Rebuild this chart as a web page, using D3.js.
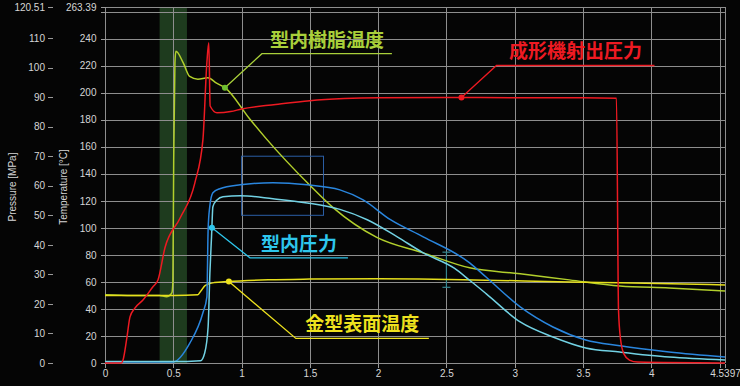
<!DOCTYPE html>
<html>
<head>
<meta charset="utf-8">
<script src="https://cdn.jsdelivr.net/npm/d3@7/dist/d3.min.js"></script>
<style>
body { margin: 0; background: #050505; }
svg { display: block; }
.tick text { fill: #d6d6d6; font-family: "Liberation Sans Narrow", "Liberation Sans", Arial, sans-serif; font-size: 10px; }
.tick line { stroke: #9a9a9a; }
.grid line { stroke: #8e8e8e; stroke-width: 1; shape-rendering: crispEdges; }
.title { fill: #d6d6d6; font-family: "Liberation Sans Narrow", "Liberation Sans", Arial, sans-serif; font-size: 10px; }
.series { fill: none; stroke-width: 1.5; stroke-linejoin: round; }
.note { font-family: "Noto Sans CJK JP", "Noto Sans", sans-serif; font-size: 19px; font-weight: bold; }
</style>
</head>
<body>
<div id="chart"></div>
<script>
// axis ranges
var tMax = 4.5397;      // s
var tempMax = 263.39;   // degC
var presMax = 120.51;   // MPa

var xTicks = [0, 0.5, 1, 1.5, 2, 2.5, 3, 3.5, 4, 4.5, 4.5397];
var tempTicks = [0, 20, 40, 60, 80, 100, 120, 140, 160, 180, 200, 220, 240, 260, 263.39];
var presTicks = [0, 10, 20, 30, 40, 50, 60, 70, 80, 90, 100, 110, 120.51];
var hiddenLabels = [4.5, 260];

// machine injection pressure (MPa)
var redT = [0, 0.12, 0.132, 0.161, 0.183, 0.219, 0.278, 0.351, 0.388, 0.439, 0.549, 0.658, 0.717, 0.746, 0.76, 0.77, 0.82, 0.92, 1.0, 1.25, 1.5, 1.75, 2.0, 2.5, 3.0, 3.5, 3.745, 3.76, 3.775, 3.8, 3.84, 3.9, 4.5397];
var redV = [0, 0, 1, 8.8, 15.6, 18.6, 21.3, 25.8, 28.1, 39, 49, 61, 75.6, 101.7, 108.4, 87, 84.7, 85.1, 86, 87.5, 88.8, 89.5, 89.8, 89.9, 89.8, 89.8, 89.6, 18, 8, 3, 1, 0.3, 0];

// resin temperature in mold (degC)
var resinT = [0, 0.2, 0.4, 0.45, 0.49, 0.497, 0.503, 0.512, 0.519, 0.573, 0.62, 0.68, 0.753, 0.817, 0.878, 1.06, 1.18, 1.5, 1.67, 1.99, 2.33, 2.67, 3.04, 3.4, 3.77, 4.13, 4.5397];
var resinV = [50.5, 50, 50, 49, 52, 60, 150, 222, 230.6, 222, 212, 210, 211, 207, 203.7, 180.5, 166, 131.5, 115, 93, 81.5, 70.4, 66, 61.5, 57, 55.5, 53.3];

// mold surface temperature (degC)
var moldT = [0, 0.5, 0.68, 0.7, 0.735, 0.8, 0.9, 1.2, 1.5, 2.0, 2.3, 2.7, 3.4, 3.77, 4.5397];
var moldV = [50, 50, 50.5, 53, 57.5, 59.5, 60.3, 61.6, 62.1, 62.4, 62.2, 61.5, 60, 59.3, 57.8];

// cavity pressure, upper sensor (MPa)
var blueT = [0, 0.497, 0.622, 0.717, 0.746, 0.755, 0.766, 0.79, 0.84, 0.99, 1.23, 1.48, 1.72, 1.89, 2.09, 2.33, 2.67, 2.79, 3.04, 3.28, 3.52, 3.77, 4.13, 4.5397];
var blueV = [0.3, 0.3, 6.8, 17, 22.4, 45, 52.5, 57.6, 59, 60.3, 61, 60.3, 58.6, 55.2, 48.5, 42.7, 33.9, 29.1, 19, 12.2, 7.8, 5.8, 3.7, 2.0];

// cavity pressure (MPa)
var cyanT = [0, 0.5, 0.7, 0.73, 0.755, 0.768, 0.78, 0.79, 0.82, 0.864, 0.99, 1.23, 1.48, 1.72, 1.92, 2.14, 2.33, 2.56, 2.67, 2.79, 3.04, 3.28, 3.52, 3.77, 4.13, 4.5397];
var cyanV = [0.5, 0.5, 0.8, 3.4, 12.2, 30.5, 42.7, 52.9, 55.2, 56.3, 56.6, 55.6, 54.2, 52, 48.5, 42.7, 37.3, 32, 28, 23.5, 13.9, 8.8, 5.1, 3.7, 2.0, 1.0];

var bandT = [0.4, 0.6];        // shaded window
var boxT = [1.0, 1.6];         // selection box, time
var boxP = [50, 70];           // selection box, MPa
var cursorT = 2.5;             // error bar
var cursorTemp = [56, 82];

var noteText = ["型内樹脂温度", "成形機射出圧力", "型内圧力", "金型表面温度"];
var noteAt = [0.878, 2.61, 0.783, 0.907];

var width = 740, height = 386;
var margin = {top: 7, right: 15, bottom: 23, left: 105};

var x = d3.scaleLinear().domain([0, tMax]).range([margin.left, width - margin.right]);
var yT = d3.scaleLinear().domain([0, tempMax]).range([height - margin.bottom, margin.top]);
var yP = d3.scaleLinear().domain([0, presMax]).range([height - margin.bottom, margin.top]);

var svg = d3.select("#chart").append("svg").attr("width", width).attr("height", height);
svg.append("rect").attr("width", width).attr("height", height).attr("fill", "#050505");

// shaded band
svg.append("rect")
    .attr("x", x(bandT[0])).attr("width", x(bandT[1]) - x(bandT[0]))
    .attr("y", yT(tempMax)).attr("height", yT(0) - yT(tempMax))
    .attr("fill", "#1e3b1e");

// grid
var grid = svg.append("g").attr("class", "grid");
grid.selectAll("hline").data(tempTicks).enter().append("line")
    .attr("x1", x(0)).attr("x2", x(tMax))
    .attr("y1", function(d) { return Math.round(yT(d)) + 0.5; })
    .attr("y2", function(d) { return Math.round(yT(d)) + 0.5; });
grid.selectAll("vline").data(xTicks).enter().append("line")
    .attr("x1", function(d) { return Math.round(x(d)) + 0.5; })
    .attr("x2", function(d) { return Math.round(x(d)) + 0.5; })
    .attr("y1", yT(tempMax)).attr("y2", yT(0));

function fmt(d) { return hiddenLabels.indexOf(d) >= 0 ? "" : String(d); }

// axes
var xAxis = d3.axisBottom(x).tickValues(xTicks).tickSize(4).tickPadding(2).tickFormat(fmt);
var tAxis = d3.axisLeft(yT).tickValues(tempTicks).tickSize(5).tickPadding(4).tickFormat(fmt);
var pAxis = d3.axisLeft(yP).tickValues(presTicks).tickSize(5).tickPadding(3).tickFormat(fmt);

svg.append("g").attr("transform", "translate(0," + (Math.round(yT(0)) + 0.5) + ")").call(xAxis)
    .call(function(g) { g.select(".domain").remove(); });
svg.append("g").attr("transform", "translate(" + (x(0) + 0.5) + ",0)").call(tAxis)
    .call(function(g) { g.select(".domain").remove(); });
svg.append("g").attr("transform", "translate(53,0)").call(pAxis)
    .call(function(g) { g.select(".domain").remove(); });
svg.selectAll(".tick line").attr("shape-rendering", "crispEdges");

svg.append("text").attr("class", "title").attr("text-anchor", "middle")
    .attr("transform", "translate(15.5,187) rotate(-90)").text("Pressure [MPa]");
svg.append("text").attr("class", "title").attr("text-anchor", "middle")
    .attr("transform", "translate(66.5,187) rotate(-90)").text("Temperature [°C]");

// selection box and cursor
svg.append("rect")
    .attr("x", x(boxT[0])).attr("width", x(boxT[1]) - x(boxT[0]))
    .attr("y", yP(boxP[1])).attr("height", yP(boxP[0]) - yP(boxP[1]))
    .attr("fill", "none").attr("stroke", "#2b5fa6").attr("stroke-width", 1);

var cur = svg.append("g").attr("stroke", "#36868f").attr("stroke-width", 1.2);
cur.append("line").attr("x1", x(cursorT)).attr("x2", x(cursorT))
    .attr("y1", yT(cursorTemp[0])).attr("y2", yT(cursorTemp[1]));
cursorTemp.forEach(function(v) {
    cur.append("line").attr("x1", x(cursorT) - 4).attr("x2", x(cursorT) + 4)
        .attr("y1", yT(v)).attr("y2", yT(v));
});

// series
function pairs(ts, vs) { return ts.map(function(t, i) { return [t, vs[i]]; }); }
var series = [
    {d: pairs(resinT, resinV), y: yT, color: "#b2cf2c", w: 1.5},
    {d: pairs(moldT, moldV), y: yT, color: "#e6df1c", w: 1.6},
    {d: pairs(blueT, blueV), y: yP, color: "#2a86de", w: 1.5},
    {d: pairs(cyanT, cyanV), y: yP, color: "#72d2e4", w: 1.5},
    {d: pairs(redT, redV), y: yP, color: "#ee1a22", w: 2}
];
series.forEach(function(s) {
    var line = d3.line().curve(d3.curveMonotoneX)
        .x(function(d) { return x(d[0]); })
        .y(function(d) { return s.y(d[1]); });
    svg.append("path").datum(s.d).attr("class", "series")
        .attr("stroke", s.color).attr("stroke-width", s.w).attr("d", line);
});

// value of a series at time t (for placing markers on the line)
function valueAt(ts, vs, t) {
    var i = d3.bisectRight(ts, t);
    if (i <= 0) return vs[0];
    if (i >= ts.length) return vs[vs.length - 1];
    var k = (t - ts[i - 1]) / (ts[i] - ts[i - 1]);
    return vs[i - 1] + k * (vs[i] - vs[i - 1]);
}

// callouts: leader offset, underline length, colours
var noteLayout = [
    {ts: resinT, vs: resinV, y: yT, dx: 37, dy: -34, len: 130, color: "#a9d03a", mark: "#6fbf30"},
    {ts: redT, vs: redV, y: yP, dx: 35, dy: -32, len: 158, color: "#ee1a22", mark: "#ee1a22"},
    {ts: cyanT, vs: cyanV, y: yP, dx: 38, dy: 30, len: 98, color: "#2ec6ec", mark: "#2ec6ec"},
    {ts: moldT, vs: moldV, y: yT, dx: 67, dy: 57, len: 133, color: "#eee21e", mark: "#eee21e"}
];
noteLayout.forEach(function(n, i) {
    var ax = x(noteAt[i]);
    var ay = n.y(valueAt(n.ts, n.vs, noteAt[i]));
    var ex = ax + n.dx, ey = ay + n.dy;
    var g = svg.append("g");
    g.append("polyline")
        .attr("points", ax + "," + ay + " " + ex + "," + ey + " " + (ex + n.len) + "," + ey)
        .attr("fill", "none").attr("stroke", n.color).attr("stroke-width", 1.3);
    g.append("circle").attr("cx", ax).attr("cy", ay).attr("r", 3).attr("fill", n.mark);
    g.append("text").attr("class", "note")
        .attr("x", ex + n.len / 2).attr("y", ey - 7)
        .attr("text-anchor", "middle").attr("fill", n.color)
        .text(noteText[i]);
});
</script>
</body>
</html>
